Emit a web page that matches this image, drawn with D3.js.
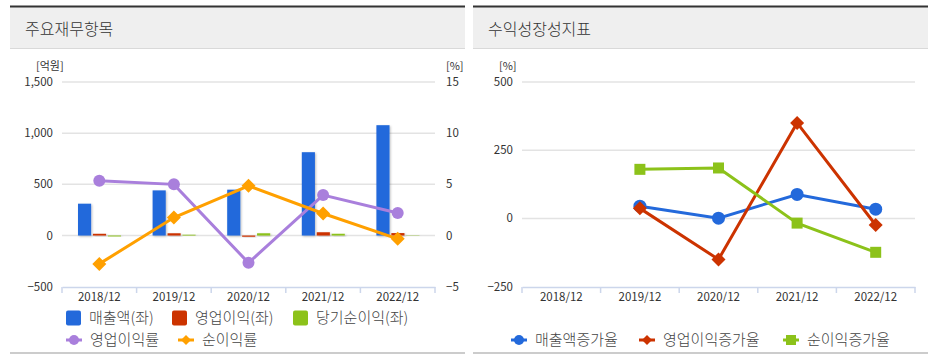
<!DOCTYPE html>
<html>
<head>
<meta charset="utf-8">
<title>주요재무항목 / 수익성장성지표</title>
<script src="https://cdn.jsdelivr.net/npm/d3@7"></script>
<style>
  body { margin: 0; background: #fff; }
  svg text { font-family: "Noto Sans CJK KR", "Noto Sans", sans-serif; fill: #333; }
  .tick-lab { font-size: 11.5px; }
  .unit { font-size: 11px; }
  .title { font-size: 16px; fill: #333; font-weight: 300; }
  .legend { font-size: 15px; fill: #444; font-weight: 300; }
</style>
</head>
<body>
<svg width="937" height="362"></svg>
<script>
// ----- data -----
var years = ["2018/12", "2019/12", "2020/12", "2021/12", "2022/12"];

// left chart (억원, %)
var sales      = [311, 441, 448, 814, 1078];
var opIncome   = [17, 22, -12, 32, 24];
var netIncome  = [-9, 8, 22, 17, -3];
var opMargin   = [5.35, 5.0, -2.67, 3.95, 2.2];
var netMargin  = [-2.77, 1.76, 4.86, 2.15, -0.32];
var leftTicks  = [-500, 0, 500, 1000, 1500];
var rightTicks = [-5, 0, 5, 10, 15];

// right chart (%)
var salesGrowth = [null, 45, 1, 88, 34];
var opGrowth    = [null, 37, -150, 350, -24];
var netGrowth   = [null, 180, 185, -17, -124];
var growthTicks = [-250, 0, 250, 500];

var colors = {
  blue: "#2369db", red: "#cc3300", green: "#8cc21a",
  purple: "#a97fdc", orange: "#ffa000"
};

var svg = d3.select("svg");

// shadow for bars
var defs = svg.append("defs");
var f = defs.append("filter").attr("id", "shadow")
    .attr("x", "-30%").attr("y", "-30%").attr("width", "160%").attr("height", "160%");
f.append("feDropShadow").attr("dx", 1).attr("dy", 1).attr("stdDeviation", 1.2)
    .attr("flood-color", "#000").attr("flood-opacity", 0.25);

// ----- panel frames -----
function panel(x0, w, title) {
  svg.append("rect").attr("x", x0).attr("y", 7).attr("width", w).attr("height", 41).attr("fill", "#efefef");
  svg.append("rect").attr("x", x0).attr("y", 5.5).attr("width", w).attr("height", 2).attr("fill", "#333");
  svg.append("rect").attr("x", x0).attr("y", 48).attr("width", w).attr("height", 1).attr("fill", "#d9d9d9");
  svg.append("rect").attr("x", x0).attr("y", 352).attr("width", w).attr("height", 2).attr("fill", "#cccccc");
  svg.append("text").attr("class", "title").attr("x", x0 + 15).attr("y", 35).text(title);
}
panel(10, 455, "주요재무항목");
panel(473, 455, "수익성장성지표");

// ----- common helpers -----
function grid(g, y, ticks, x0, x1) {
  g.selectAll(".grid").data(ticks).enter().append("line")
    .attr("x1", x0).attr("x2", x1)
    .attr("y1", function(d) { return y(d); }).attr("y2", function(d) { return y(d); })
    .attr("stroke", "#e3e3e3").attr("stroke-width", 1.5);
}

function xAxis(g, x, yPos) {
  var axis = d3.axisBottom(x).tickSize(0).tickPadding(6);
  var a = g.append("g").attr("transform", "translate(0," + yPos + ")").call(axis);
  a.select(".domain").attr("stroke", "#ccd6eb").attr("stroke-width", 1.5);
  a.selectAll("text").attr("class", "tick-lab").style("font-size", "11.5px");
  // band boundary ticks
  var bounds = x.domain().map(function(d) { return x(d); }).concat([x.range()[1]]);
  a.selectAll(".bt").data(bounds).enter().append("line")
    .attr("x1", function(d) { return d; }).attr("x2", function(d) { return d; })
    .attr("y1", 0).attr("y2", 6).attr("stroke", "#ccd6eb").attr("stroke-width", 1.5);
}

function yLabels(g, y, ticks, xPos, anchor, fmt) {
  g.selectAll(null).data(ticks).enter().append("text")
    .attr("class", "tick-lab")
    .attr("x", xPos).attr("y", function(d) { return y(d); })
    .attr("dy", "0.35em").attr("text-anchor", anchor)
    .text(function(d) { return fmt(d); });
}

function marker(g, type, cx, cy, color, s) {
  if (type === "circle") {
    g.append("circle").attr("cx", cx).attr("cy", cy).attr("r", s).attr("fill", color);
  } else if (type === "diamond") {
    var p = [[cx, cy - s], [cx + s, cy], [cx, cy + s], [cx - s, cy]];
    g.append("path").attr("d", "M" + p.join("L") + "Z").attr("fill", color);
  } else {
    g.append("rect").attr("x", cx - s).attr("y", cy - s).attr("width", 2 * s).attr("height", 2 * s)
      .attr("fill", color);
  }
}

function lineSeries(g, x, y, vals, color, type, size) {
  var pts = years.map(function(d, i) { return { x: x(d) + x.bandwidth() / 2, v: vals[i] }; })
    .filter(function(p) { return p.v !== null; });
  g.append("path").datum(pts)
    .attr("d", d3.line().x(function(p) { return p.x; }).y(function(p) { return y(p.v); }))
    .attr("fill", "none").attr("stroke", color).attr("stroke-width", 3);
  pts.forEach(function(p) { marker(g, type, p.x, y(p.v), color, size); });
}

// ----- left chart -----
var gl = svg.append("g");
var xl = d3.scaleBand().domain(years).range([62, 435]);
var yl = d3.scaleLinear().domain([-500, 1500]).range([286.7, 82]);
var yr = d3.scaleLinear().domain([-5, 15]).range([286.7, 82]);

grid(gl, yl, leftTicks.slice(1), 62, 435);
yLabels(gl, yl, leftTicks, 53, "end", d3.format(","));
yLabels(gl, yr, rightTicks, 446, "start", d3.format("d"));
gl.append("text").attr("class", "unit").attr("x", 36).attr("y", 70).text("[억원]");
gl.append("text").attr("class", "unit").attr("x", 446).attr("y", 70).text("[%]");

var barKeys = ["sales", "op", "net"];
var barData = { sales: sales, op: opIncome, net: netIncome };
var barColor = { sales: colors.blue, op: colors.red, net: colors.green };
var xInner = d3.scaleBand().domain(barKeys).range([16, 59]).paddingInner(0.12);

barKeys.forEach(function(k) {
  gl.append("g").selectAll("rect").data(years).enter().append("rect")
    .attr("x", function(d) { return xl(d) + xInner(k); })
    .attr("width", xInner.bandwidth())
    .attr("y", function(d, i) { return Math.min(yl(barData[k][i]), yl(0)); })
    .attr("height", function(d, i) { return Math.abs(yl(barData[k][i]) - yl(0)); })
    .attr("fill", barColor[k])
    .attr("filter", "url(#shadow)");
});

xAxis(gl, xl, 287);
lineSeries(gl, xl, yr, opMargin, colors.purple, "circle", 6);
lineSeries(gl, xl, yr, netMargin, colors.orange, "diamond", 7);

// left legend
var legL = [
  { name: "매출액(좌)", color: colors.blue, type: "box", x: 66, y: 318 },
  { name: "영업이익(좌)", color: colors.red, type: "box", x: 172, y: 318 },
  { name: "당기순이익(좌)", color: colors.green, type: "box", x: 293, y: 318 },
  { name: "영업이익률", color: colors.purple, type: "circle", x: 66, y: 340 },
  { name: "순이익률", color: colors.orange, type: "diamond", x: 178, y: 340 }
];
function legendItem(g, d) {
  if (d.type === "box") {
    g.append("rect").attr("x", d.x).attr("y", d.y - 7.5).attr("width", 15).attr("height", 15)
      .attr("rx", 2).attr("fill", d.color);
    g.append("text").attr("class", "legend").attr("x", d.x + 23).attr("y", d.y).attr("dy", "0.36em").text(d.name);
  } else {
    g.append("line").attr("x1", d.x).attr("x2", d.x + 16).attr("y1", d.y).attr("y2", d.y)
      .attr("stroke", d.color).attr("stroke-width", 3);
    marker(g, d.type, d.x + 8, d.y, d.color, 5);
    g.append("text").attr("class", "legend").attr("x", d.x + 24).attr("y", d.y).attr("dy", "0.36em").text(d.name);
  }
}
legL.forEach(function(d) { legendItem(gl, d); });

// ----- right chart -----
var gr = svg.append("g");
var xg = d3.scaleBand().domain(years).range([522, 915]);
var yg = d3.scaleLinear().domain([-250, 500]).range([286.7, 82]);

grid(gr, yg, growthTicks.slice(1), 522, 915);
yLabels(gr, yg, growthTicks, 513, "end", d3.format("d"));
gr.append("text").attr("class", "unit").attr("x", 499).attr("y", 70).text("[%]");
xAxis(gr, xg, 287);

lineSeries(gr, xg, yg, salesGrowth, colors.blue, "circle", 6.5);
lineSeries(gr, xg, yg, opGrowth, colors.red, "diamond", 7);
lineSeries(gr, xg, yg, netGrowth, colors.green, "square", 5.5);

var legR = [
  { name: "매출액증가율", color: colors.blue, type: "circle", x: 511, y: 340 },
  { name: "영업이익증가율", color: colors.red, type: "diamond", x: 639, y: 340 },
  { name: "순이익증가율", color: colors.green, type: "square", x: 783, y: 340 }
];
legR.forEach(function(d) { legendItem(gr, d); });
</script>
</body>
</html>
